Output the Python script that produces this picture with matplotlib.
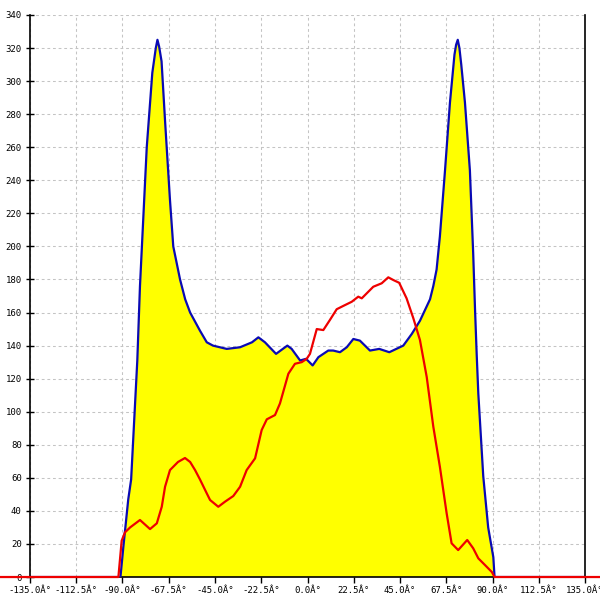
import numpy as np
import matplotlib
matplotlib.use("Agg")
import matplotlib.pyplot as plt

# 包络曲线（蓝线 + 黄色填充）
blue_x = [-150, -91, -89.6, -87.2, -85.8, -82.8, -81.5, -78.2, -75.5, -73.8, -73, -72.2, -71, -69.3,
          -66.9, -65.3, -62, -59.5, -57.1, -52.3, -49, -46, -39.3, -32.8, -27, -23.9, -20.7, -15.3,
          -9.8, -7.7, -3.6, -0.7, 2.5, 5.3, 10.1, 12.5, 15.8, 19.1, 22.3, 25.5, 30.4, 34.9, 39.8,
          46.6, 50.7, 54.7, 59.6, 61.2, 62.8, 64.4, 66.9, 69.3, 71.5, 72.3, 73.1, 73.9, 74.8, 76.6,
          79, 80.6, 81.5, 82.3, 83.1, 85.5, 87.9, 90.4, 91, 150]
blue_y = [0, 0, 18, 47, 59, 131, 176, 260, 305, 320, 325, 321, 312, 276,
          228, 200, 180, 168, 160, 149, 142, 140, 138, 139, 142, 145, 142, 135,
          140, 138, 131, 132, 128, 133, 137, 137, 136, 139, 144, 143, 137, 138, 136,
          140, 147, 155, 168, 176, 186, 206, 246, 287, 316, 322, 325, 320, 310, 287,
          246, 196, 162, 135, 111, 61, 30, 12, 0, 0]

# 红线
red_x = [-150, -92, -90.4, -88.8, -86.3, -81.5, -76.6, -73.3, -70.9, -69.3, -66.9, -63, -59.6,
         -57.1, -54.7, -52.3, -49, -47.4, -43.4, -40.1, -36.1, -32.8, -29.6, -25.5, -22.3,
         -19.8, -15.8, -13.4, -9.3, -6.1, -2.8, -0.4, 1.2, 4.5, 7.7, 10.9, 14.2, 17.4, 21.5,
         24.7, 26.4, 32, 36.1, 39.3, 41.7, 44.6, 48.2, 51.5, 54.7, 58, 61.2, 64.4, 67.7,
         70.1, 73.3, 77.7, 80.6, 83.1, 86.3, 89.7, 91, 150]
red_y = [0, 0, 22, 27, 30, 34.5, 29, 32.5, 42.5, 54.6, 64.7, 69.6, 72,
         69.6, 64.7, 59, 50.6, 46.6, 42.5, 45.6, 49, 54.6, 64.7, 71.8, 88.9,
         95.4, 98, 105, 123, 129, 130, 132, 135, 150, 149.4, 155.5, 162, 164, 166.5,
         169.6, 168.6, 175.6, 177.7, 181.3, 179.7, 178, 168.6, 156.5, 143.4, 121, 91, 66.7, 38.5,
         20.4, 16.3, 22.4, 17.4, 11.3, 7.3, 3, 0, 0]

x_ticks = np.arange(-135, 135.1, 22.5)
x_labels = [f"{v:.1f}Â°" for v in x_ticks]
y_ticks = np.arange(0, 341, 20)

fig = plt.figure(figsize=(6, 6), dpi=100)
ax = fig.add_axes([0.05, 0.0383, 0.925, 0.9367])

ax.fill_between(blue_x, blue_y, 0, color="#ffff00", lw=0, zorder=2)
ax.plot(blue_x, blue_y, color="#0a0ab4", lw=1.6, zorder=3, solid_joinstyle="round")
ax.plot(red_x, red_y, color="#ee0000", lw=1.6, zorder=4, clip_on=False, solid_joinstyle="round")

ax.set_xlim(-135, 135)
ax.set_ylim(0, 340)
ax.set_xticks(x_ticks)
ax.set_xticklabels(x_labels)
ax.set_yticks(y_ticks)

ax.grid(True, color="#c4c4c4", linestyle=(0, (2.7, 2.7)), lw=0.75, zorder=1)
ax.spines["top"].set_visible(False)
for s in ["left", "right", "bottom"]:
    ax.spines[s].set_color("black")
    ax.spines[s].set_linewidth(1.2)

ax.tick_params(axis="y", direction="inout", length=6, width=1, pad=3,
               labelsize=6.5, labelfontfamily="DejaVu Sans Mono")
ax.tick_params(axis="x", direction="out", length=4.5, width=1, pad=2,
               labelsize=6.5, labelfontfamily="DejaVu Sans Mono")

fig.savefig("out.png", dpi=100)
